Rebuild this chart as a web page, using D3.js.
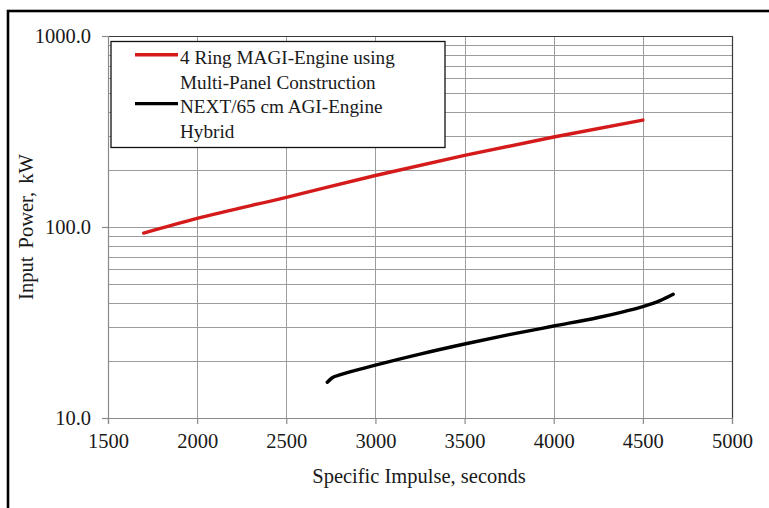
<!DOCTYPE html>
<html>
<head>
<meta charset="utf-8">
<script src="https://cdn.jsdelivr.net/npm/d3@7/dist/d3.min.js"></script>
<style>
  html, body { margin: 0; padding: 0; background: #fff; }
  svg { display: block; }
  text { font-family: "Liberation Serif", "Times New Roman", serif; fill: #1a1a1a; }
</style>
</head>
<body>
<script>
// Input power vs specific impulse for two engine configurations
const magiImpulse = [1700, 2000, 2500, 3000, 3500, 4000, 4500];
const magiPower   = [93, 111, 143, 186, 237, 296, 363];

const nextImpulse = [2730, 2760, 2800, 3000, 3250, 3500, 3750, 4000, 4250, 4400, 4500, 4600, 4670];
const nextPower   = [15.4, 16.3, 16.8, 18.9, 21.6, 24.4, 27.3, 30.3, 33.6, 36.2, 38.3, 41.3, 44.4];

const xTicks = [1500, 2000, 2500, 3000, 3500, 4000, 4500, 5000];
const yTicks = [10, 100, 1000];
const yGrid  = [20, 30, 40, 50, 60, 70, 80, 90, 100, 200, 300, 400, 500, 600, 700, 800, 900];

const seriesNames = ["4 Ring MAGI-Engine using|Multi-Panel Construction", "NEXT/65 cm AGI-Engine|Hybrid"];
const seriesColors = ["#d41a1a", "#000000"];

const W = 769, H = 508;
const plot = { left: 108, top: 36, right: 732, bottom: 418 };

const svg = d3.select("body").append("svg").attr("width", W).attr("height", H);

// outer frame
svg.append("rect").attr("x", 8).attr("y", 11).attr("width", 820).attr("height", 600)
  .attr("fill", "none").attr("stroke", "#000").attr("stroke-width", 2.6);

const x = d3.scaleLinear().domain([1500, 5000]).range([plot.left, plot.right]);
const y = d3.scaleLog().domain([10, 1000]).range([plot.bottom, plot.top]);

const grid = svg.append("g").attr("stroke", "#9c9c9c").attr("stroke-width", 1).attr("shape-rendering", "crispEdges");
grid.selectAll("line.h").data(yGrid).join("line").attr("class", "h")
  .attr("x1", plot.left).attr("x2", plot.right)
  .attr("y1", d => Math.round(y(d)) + 0.5).attr("y2", d => Math.round(y(d)) + 0.5);
grid.selectAll("line.v").data(xTicks.slice(1, -1)).join("line").attr("class", "v")
  .attr("y1", plot.top).attr("y2", plot.bottom)
  .attr("x1", d => Math.round(x(d)) + 0.5).attr("x2", d => Math.round(x(d)) + 0.5);

// plot area border (top and right)
svg.append("path")
  .attr("d", `M${plot.left},${plot.top + 0.5}H${plot.right + 0.5}V${plot.bottom}`)
  .attr("fill", "none").attr("stroke", "#3a3a3a").attr("stroke-width", 1.2);

// axes
const xAxis = d3.axisBottom(x).tickValues(xTicks).tickSize(6).tickPadding(9).tickFormat(d3.format("d"));
const yAxis = d3.axisLeft(y).tickValues(yTicks).tickSize(6).tickPadding(11).tickFormat(d3.format(".1f"));

const gx = svg.append("g").attr("transform", `translate(0,${plot.bottom})`).call(xAxis);
const gy = svg.append("g").attr("transform", `translate(${plot.left},0)`).call(yAxis);
[gx, gy].forEach(g => {
  g.select(".domain").attr("stroke", "#8a8a8a").attr("stroke-width", 1.2);
  g.selectAll(".tick line").attr("stroke", "#8a8a8a").attr("stroke-width", 1.2);
  g.selectAll(".tick text").style("font-family", '"Liberation Serif", serif')
    .style("font-size", "20.5px").attr("fill", "#1a1a1a");
});

// series lines
const line = d3.line().x(d => x(d[0])).y(d => y(d[1])).curve(d3.curveMonotoneX);
const seriesData = [
  d3.zip(magiImpulse, magiPower),
  d3.zip(nextImpulse, nextPower)
];
svg.selectAll("path.series").data(seriesData).join("path").attr("class", "series")
  .attr("d", line).attr("fill", "none")
  .attr("stroke", (d, i) => seriesColors[i]).attr("stroke-width", 3.4)
  .attr("stroke-linecap", "round").attr("stroke-linejoin", "round");

// axis titles
svg.append("text").attr("x", 419).attr("y", 483).attr("text-anchor", "middle")
  .style("font-size", "20.5px").text("Specific Impulse, seconds");
svg.append("text").attr("transform", "translate(33,227) rotate(-90)").attr("text-anchor", "middle")
  .style("font-size", "20.5px").style("word-spacing", "3px").text("Input Power, kW");

// legend
const lg = svg.append("g");
lg.append("rect").attr("x", 111).attr("y", 41.5).attr("width", 334).attr("height", 106)
  .attr("fill", "#fff").attr("stroke", "#111").attr("stroke-width", 1.3);
const lineGap = 24.4;
seriesNames.forEach((name, i) => {
  const base = 64.3 + i * 2 * lineGap;
  lg.append("line").attr("x1", 135).attr("x2", 178)
    .attr("y1", base - 9.5).attr("y2", base - 9.5)
    .attr("stroke", seriesColors[i]).attr("stroke-width", 3.4);
  name.split("|").forEach((part, j) => {
    lg.append("text").attr("x", 180).attr("y", base + j * lineGap)
      .style("font-size", "19.2px").text(part);
  });
});
</script>
</body>
</html>
